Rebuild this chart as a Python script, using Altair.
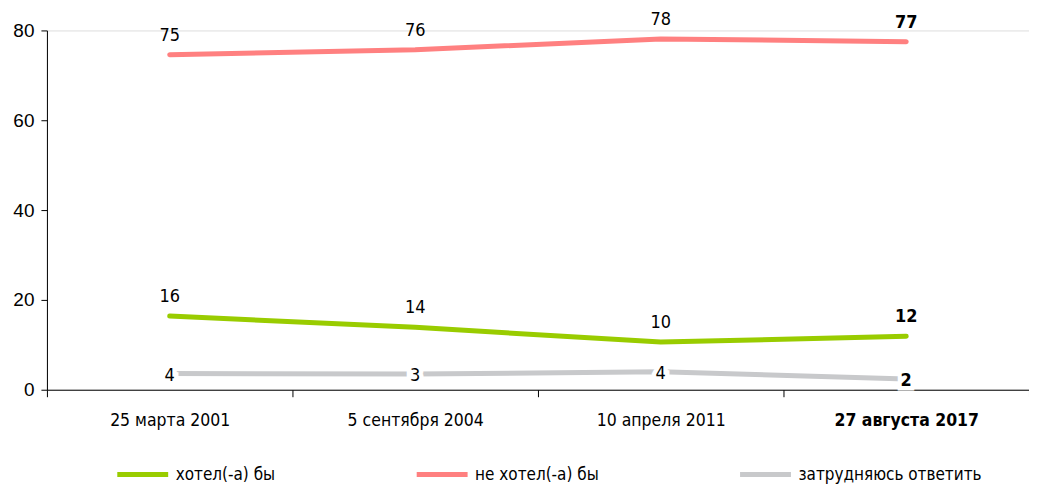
import altair as alt
import pandas as pd

dates = ["25 марта 2001", "5 сентября 2004", "10 апреля 2011", "27 августа 2017"]
series = ["хотел(-а) бы", "не хотел(-а) бы", "затрудняюсь ответить"]
colors = ["#99CC00", "#FF8080", "#C8C9CB"]

want = [16.4, 13.9, 10.6, 11.9]
not_want = [74.6, 75.7, 78.1, 77.5]
hard = [3.6, 3.5, 4.0, 2.4]

want_lbl = [16, 14, 10, 12]
not_want_lbl = [75, 76, 78, 77]
hard_lbl = [4, 3, 4, 2]

rows = []
for s, vals, lbls in zip(series, [want, not_want, hard], [want_lbl, not_want_lbl, hard_lbl]):
    for i, (d, v, l) in enumerate(zip(dates, vals, lbls)):
        rows.append({"series": s, "date": d, "value": v, "label": str(l),
                     "last": i == len(dates) - 1})
df = pd.DataFrame(rows)

NARROW = "DejaVu Sans Condensed, Liberation Sans Narrow, sans-serif"
SANS = "Liberation Sans, Arial, sans-serif"

x = alt.X("date:N", sort=dates,
          scale=alt.Scale(type="band", paddingInner=0, paddingOuter=0),
          axis=alt.Axis(title=None, tickBand="extent", tickExtra=False, labelAngle=0,
                        labelFont=NARROW, labelFontSize=17.5, labelColor="black",
                        labelPadding=15, tickSize=7, tickColor="black",
                        domainColor="black", grid=False,
                        labelFontWeight=alt.expr("datum.value == '27 августа 2017' ? 'bold' : 'normal'")))
y = alt.Y("value:Q",
          scale=alt.Scale(domain=[0, 80], nice=False),
          axis=alt.Axis(title=None, values=[0, 20, 40, 60, 80], grid=False,
                        labelFont=SANS, labelFontSize=19, labelColor="black",
                        labelPadding=7, tickSize=6, tickColor="black",
                        domainColor="black"))
color = alt.Color("series:N", sort=series,
                  scale=alt.Scale(domain=series, range=colors),
                  legend=alt.Legend(title=None, orient="none", legendX=68, legendY=417,
                                    direction="horizontal", columns=3,
                                    symbolType="stroke", symbolStrokeWidth=5,
                                    symbolSize=2600,
                                    labelFont=NARROW, labelFontSize=17,
                                    labelColor="black", labelOffset=5,
                                    columnPadding=131, labelLimit=400))

base = alt.Chart(df)

lines = base.mark_line(strokeWidth=5, strokeCap="round", strokeJoin="round").encode(
    x=x, y=y, color=color)

upper = base.transform_filter(alt.datum.series != "затрудняюсь ответить")
lower = base.transform_filter(alt.datum.series == "затрудняюсь ответить")

FS = 18
upper_norm = upper.transform_filter(alt.datum.last == False).mark_text(
    font=NARROW, fontSize=FS, dy=-19, color="black").encode(
    x=x, y=y, text="label:N")
upper_bold = upper.transform_filter(alt.datum.last == True).mark_text(
    font=NARROW, fontSize=FS, dy=-19, color="black", fontWeight="bold").encode(
    x=x, y=y, text="label:N")

lower_halo = lower.mark_text(font=NARROW, fontSize=FS, color="white", stroke="white",
                             strokeWidth=9, baseline="middle", dy=2).encode(
    x=x, y=y, text="label:N")
lower_norm = lower.transform_filter(alt.datum.last == False).mark_text(
    font=NARROW, fontSize=FS, color="black", baseline="middle", dy=2).encode(
    x=x, y=y, text="label:N")
lower_bold = lower.transform_filter(alt.datum.last == True).mark_text(
    font=NARROW, fontSize=FS, color="black", baseline="middle", dy=2,
    fontWeight="bold").encode(x=x, y=y, text="label:N")

chart = alt.layer(lines, upper_norm, upper_bold, lower_halo, lower_norm, lower_bold).properties(
    width=984, height=360,
    autosize=alt.AutoSizeParams(type="none"),
    padding={"left": 39, "top": 22, "right": 0, "bottom": 96},
).configure_view(stroke=None, strokeWidth=0).configure_axis(grid=False).configure(background="white")

chart.save("out.html", embed_options={"renderer": "svg", "actions": False})
